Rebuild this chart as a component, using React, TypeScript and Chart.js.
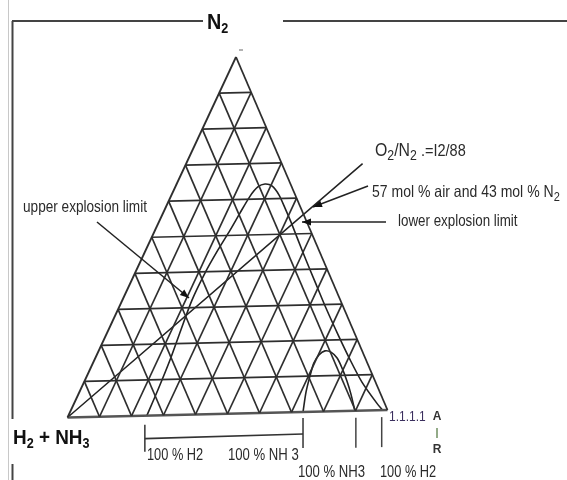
import React, { useEffect, useRef } from "react";
import { Chart, registerables } from "chart.js";

Chart.register(...registerables);

// ---- Data: compositions in mol % (N2, air); fuel (H2 + NH3) = 100 - N2 - air ----
// Upper explosion limit branch of the H2 region (from the base up to the nose)
const uelH2N2 = [0, 7.1, 15.5, 23.8, 32.1, 39.6, 46.0, 51.5, 56.2, 60.9, 63.4, 64.2];
const uelH2Air = [24.8, 24.5, 23.9, 22.9, 22.0, 22.1, 22.8, 23.7, 24.3, 25.0, 26.1, 27.9];
// Lower explosion limit branch of the H2 region (from the nose down to the base)
const lelH2N2 = [64.2, 63.6, 61.0, 57.3, 53.4, 48.3, 42.6, 36.4, 29.0, 21.4, 14.3, 8.0, 2.0, 0];
const lelH2Air = [27.9, 30.4, 34.0, 37.8, 41.7, 46.6, 52.1, 58.2, 65.5, 73.3, 80.8, 87.8, 95.6, 98.5];
// NH3 explosion region
const nh3N2 = [0, 5.6, 10.0, 13.7, 15.9, 17.0, 16.6, 14.9, 12.1, 8.4, 4.7, 0];
const nh3Air = [73.6, 71.6, 70.5, 69.8, 70.2, 71.5, 73.6, 76.4, 79.4, 82.9, 86.1, 89.8];
// Constant O2/N2 line: from the fuel corner through the N2-air edge
const ratioLineN2 = [0, 55.4];
const ratioLineAir = [0, 44.6];
// Grid steps (mol %)
const gridSteps = [10, 20, 30, 40, 50, 60, 70, 80, 90];

// ---- Layout ----
const W = 567;
const H = 480;
const APEX = { x: 236, y: 57 }; // 100 % N2
const FUEL = { x: 67.5, y: 417.5 }; // 100 % H2 + NH3
const AIRC = { x: 387.5, y: 410 }; // 100 % air
const RATIO_EXTEND = 1.25;
const FONT = "'Liberation Sans', Arial, sans-serif";
const INK = "#2a2a2a";
const NARROW_X = 0.8;

function tern(n2: number, air: number) {
  const a = n2 / 100;
  const c = air / 100;
  return {
    x: FUEL.x + a * (APEX.x - FUEL.x) + c * (AIRC.x - FUEL.x),
    y: FUEL.y + a * (APEX.y - FUEL.y) + c * (AIRC.y - FUEL.y),
  };
}

function seg(p: { x: number; y: number }[], color: string, width: number, tension = 0) {
  return {
    type: "scatter" as const,
    data: p,
    showLine: true,
    borderColor: color,
    borderWidth: width,
    pointRadius: 0,
    pointHoverRadius: 0,
    tension,
    fill: false,
  };
}

function buildDatasets() {
  const ds: any[] = [];
  const gridColor = "#2e2e2e";
  for (const g of gridSteps) {
    ds.push(seg([tern(g, 0), tern(g, 100 - g)], gridColor, 1.7));
    ds.push(seg([tern(0, g), tern(100 - g, g)], gridColor, 1.7));
    ds.push(seg([tern(0, 100 - g), tern(100 - g, 0)], gridColor, 1.7));
  }
  ds.push(seg([tern(0, 0), tern(100, 0)], gridColor, 1.8));
  ds.push(seg([tern(100, 0), tern(0, 100)], gridColor, 1.8));
  ds.push(seg([tern(0, 0), tern(0, 100)], "#555", 2.6));
  const dome = [
    ...uelH2N2.map((n, i) => tern(n, uelH2Air[i])),
    ...lelH2N2.slice(1).map((n, i) => tern(n, lelH2Air[i + 1])),
  ];
  ds.push(seg(dome, "#222", 1.6, 0.25));
  ds.push(seg(nh3N2.map((n, i) => tern(n, nh3Air[i])), "#222", 1.6, 0.3));
  const p0 = tern(ratioLineN2[0], ratioLineAir[0]);
  const p1 = tern(ratioLineN2[1], ratioLineAir[1]);
  const pe = { x: p0.x + (p1.x - p0.x) * RATIO_EXTEND, y: p0.y + (p1.y - p0.y) * RATIO_EXTEND };
  ds.push(seg([p0, p1, pe], "#222", 1.5));
  return ds;
}

type Part = { t: string; size: number; dy?: number; bold?: boolean };

function rich(ctx: CanvasRenderingContext2D, parts: Part[], x: number, y: number, color = INK, sx = NARROW_X) {
  ctx.save();
  ctx.translate(x, y);
  ctx.scale(sx, 1);
  let cx = 0;
  ctx.fillStyle = color;
  ctx.textBaseline = "alphabetic";
  ctx.textAlign = "left";
  for (const p of parts) {
    ctx.font = `${p.bold ? "bold " : ""}${p.size}px ${FONT}`;
    ctx.fillText(p.t, cx, p.dy || 0);
    cx += ctx.measureText(p.t).width;
  }
  ctx.restore();
}

function line(ctx: CanvasRenderingContext2D, x1: number, y1: number, x2: number, y2: number, color: string, w: number) {
  ctx.strokeStyle = color;
  ctx.lineWidth = w;
  ctx.beginPath();
  ctx.moveTo(x1, y1);
  ctx.lineTo(x2, y2);
  ctx.stroke();
}

function arrow(ctx: CanvasRenderingContext2D, x1: number, y1: number, x2: number, y2: number) {
  line(ctx, x1, y1, x2, y2, "#222", 1.5);
  const ang = Math.atan2(y2 - y1, x2 - x1);
  const L = 9;
  const Wd = 3.5;
  ctx.fillStyle = "#111";
  ctx.beginPath();
  ctx.moveTo(x2, y2);
  ctx.lineTo(x2 - L * Math.cos(ang) + Wd * Math.sin(ang), y2 - L * Math.sin(ang) - Wd * Math.cos(ang));
  ctx.lineTo(x2 - L * Math.cos(ang) - Wd * Math.sin(ang), y2 - L * Math.sin(ang) + Wd * Math.cos(ang));
  ctx.closePath();
  ctx.fill();
}

const bgPlugin = {
  id: "bg",
  beforeDraw(chart: any) {
    const ctx = chart.ctx;
    ctx.save();
    ctx.fillStyle = "#ffffff";
    ctx.fillRect(0, 0, chart.width, chart.height);
    ctx.restore();
  },
};

const decoPlugin = {
  id: "deco",
  afterDraw(chart: any) {
    const ctx: CanvasRenderingContext2D = chart.ctx;
    const xs = chart.scales.x;
    const ys = chart.scales.y;
    const P = (p: { x: number; y: number }) => ({ x: xs.getPixelForValue(p.x), y: ys.getPixelForValue(p.y) });
    ctx.save();

    // frame
    line(ctx, 8.5, 0, 8.5, H, "#c8c8c8", 1);
    line(ctx, 12.5, 21, 12.5, 419, "#444", 2);
    line(ctx, 12.5, 464, 12.5, H, "#444", 2);
    line(ctx, 12, 21, 203, 21, "#444", 2);
    line(ctx, 283, 21, W, 21, "#444", 2);

    // little mark above the apex
    const apex = P(tern(100, 0));
    line(ctx, apex.x + 3, apex.y - 7, apex.x + 7, apex.y - 7, "#666", 1);

    // base ticks at the explosion limits on the N2-free edge
    const t1 = P(tern(0, uelH2Air[0]));
    const t2 = P(tern(0, nh3Air[0]));
    const t3 = P(tern(0, nh3Air[nh3Air.length - 1]));
    const t4 = P(tern(0, lelH2Air[lelH2Air.length - 1]));
    line(ctx, t1.x - 2, t1.y + 9, t1.x - 2, t1.y + 36, "#333", 1.5);
    line(ctx, t2.x, t2.y + 6, t2.x, t2.y + 36, "#333", 1.5);
    line(ctx, t3.x + 1, t3.y + 7, t3.x + 1, t3.y + 37, "#444", 1.5);
    line(ctx, t4.x - 1, t4.y + 7, t4.x - 1, t4.y + 37, "#444", 1.5);
    line(ctx, t1.x - 2, t1.y + 23, t2.x, t2.y + 22, "#333", 1.6);

    // annotation arrows
    arrow(ctx, 97, 222, 189, 298);
    arrow(ctx, 368, 186, 313, 207);
    arrow(ctx, 386, 222, 302, 222);

    // texts
    rich(ctx, [{ t: "N", size: 22, bold: true }, { t: "2", size: 14, dy: 4, bold: true }], 207, 29, "#111", 0.9);
    rich(
      ctx,
      [
        { t: "H", size: 21, bold: true },
        { t: "2", size: 14, dy: 4, bold: true },
        { t: " + ", size: 21, bold: true },
        { t: "NH", size: 21, bold: true },
        { t: "3", size: 14, dy: 4, bold: true },
      ],
      13,
      444,
      "#111",
      0.9
    );
    rich(ctx, [{ t: "upper explosion limit", size: 16 }], 23, 212, INK, 0.85);
    rich(ctx, [{ t: "lower explosion limit", size: 16 }], 398, 226, INK, 0.835);
    rich(
      ctx,
      [
        { t: "O", size: 18 },
        { t: "2", size: 14, dy: 4 },
        { t: "/N", size: 18 },
        { t: "2", size: 14, dy: 4 },
        { t: " .=I2/88", size: 16.5 },
      ],
      375,
      156,
      INK,
      0.88
    );
    rich(ctx, [{ t: "57 mol % air and 43 mol % N", size: 16.5 }, { t: "2", size: 13, dy: 4 }], 372, 197, INK, 0.85);
    rich(ctx, [{ t: "100 % H2", size: 16 }], 147, 460);
    rich(ctx, [{ t: "100 % NH 3", size: 16 }], 228, 460, INK, 0.82);
    rich(ctx, [{ t: "100 % NH3", size: 16 }], 298, 477, INK, 0.82);
    rich(ctx, [{ t: "100 % H2", size: 16 }], 380, 477);
    rich(ctx, [{ t: "1.1.1.1", size: 15 }], 389, 421, "#3b2f5e");
    ctx.font = `bold 12px ${FONT}`;
    ctx.textAlign = "center";
    ctx.fillStyle = "#333";
    ctx.fillText("A", 437, 420);
    ctx.fillText("R", 437, 453);
    line(ctx, 437, 428, 437, 438, "#6f8f60", 1.5);

    ctx.restore();
  },
};

export default function App() {
  const ref = useRef<HTMLCanvasElement | null>(null);
  useEffect(() => {
    if (!ref.current) return;
    const chart = new Chart(ref.current, {
      type: "scatter",
      data: { datasets: buildDatasets() },
      options: {
        animation: false,
        responsive: false,
        devicePixelRatio: 1,
        layout: { padding: 0 },
        plugins: { legend: { display: false }, tooltip: { enabled: false }, title: { display: false } },
        events: [],
        scales: {
          x: { type: "linear", min: 0, max: W, display: false },
          y: { type: "linear", min: 0, max: H, reverse: true, display: false },
        },
      },
      plugins: [bgPlugin, decoPlugin],
    });
    return () => chart.destroy();
  }, []);
  return (
    <div style={{ position: "fixed", left: 0, top: 0, width: W, height: H, background: "#fff" }}>
      <canvas ref={ref} width={W} height={H} style={{ width: W, height: H, display: "block" }} />
    </div>
  );
}
